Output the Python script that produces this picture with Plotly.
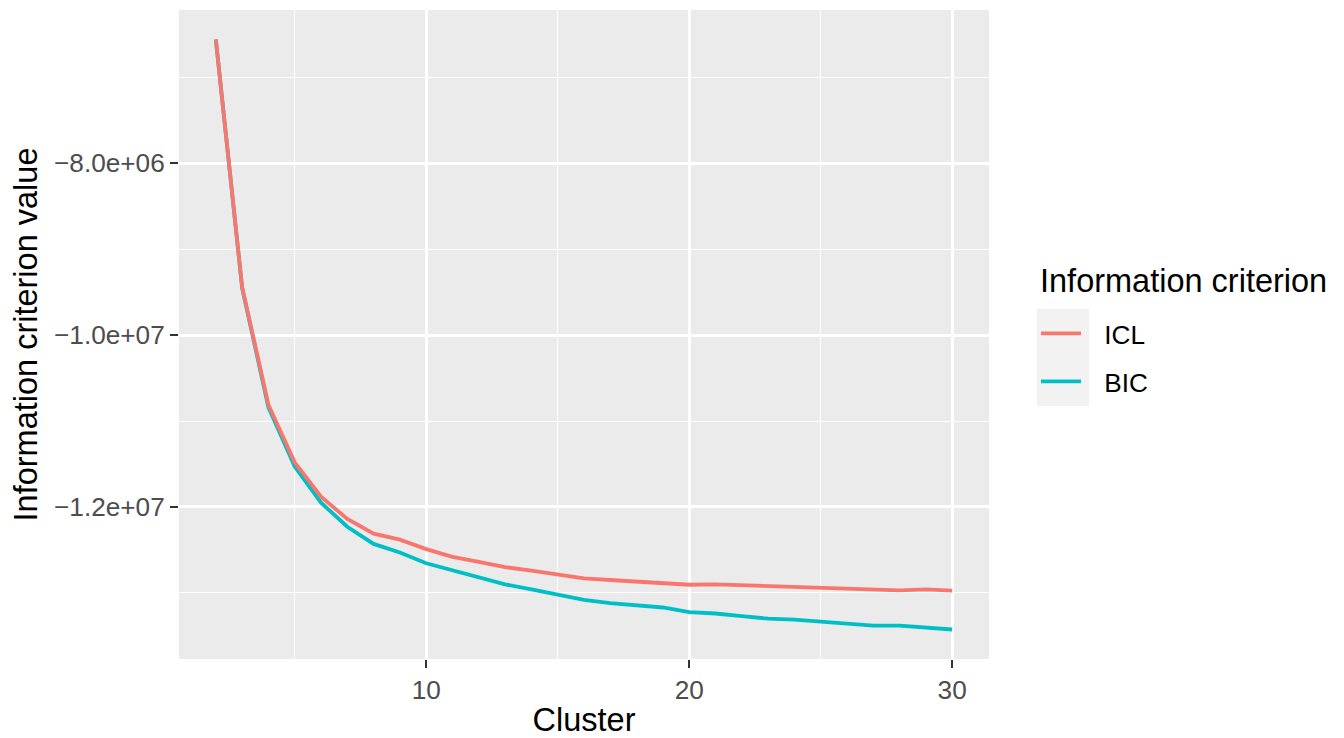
import plotly.graph_objects as go

clusters = list(range(2, 31))
icl = [-6.56e6, -9.44e6, -10.81e6, -11.48e6, -11.88e6, -12.14e6, -12.31e6, -12.38e6,
       -12.49e6, -12.58e6, -12.64e6, -12.70e6, -12.74e6, -12.78e6, -12.83e6, -12.85e6,
       -12.87e6, -12.88e6, -12.905e6, -12.90e6, -12.91e6, -12.93e6, -12.94e6, -12.95e6,
       -12.96e6, -12.97e6, -12.97e6, -12.96e6, -12.973e6]
bic = [-6.56e6, -9.45e6, -10.84e6, -11.53e6, -11.95e6, -12.23e6, -12.43e6, -12.53e6,
       -12.655e6, -12.74e6, -12.82e6, -12.90e6, -12.96e6, -13.02e6, -13.08e6, -13.12e6,
       -13.15e6, -13.17e6, -13.225e6, -13.24e6, -13.27e6, -13.30e6, -13.31e6, -13.33e6,
       -13.36e6, -13.38e6, -13.38e6, -13.40e6, -13.426e6]

x_tickvals = [10, 20, 30]
x_ticktext = ["10", "20", "30"]
y_tickvals = [-8e6, -1.0e7, -1.2e7]
y_ticktext = ["\u22128.0e+06", "\u22121.0e+07", "\u22121.2e+07"]
legend_title = "Information criterion"

FONT = "Liberation Sans, Arial, sans-serif"
TICK_SIZE = 26.2
TITLE_SIZE = 32.5

fig = go.Figure()
fig.add_trace(go.Scatter(x=clusters, y=bic, mode="lines", name="\u2002\u2009BIC",
                         line=dict(color="#00BFC4", width=3.8),
                         legendgroup="BIC", legendrank=2))
fig.add_trace(go.Scatter(x=clusters, y=icl, mode="lines", name="\u2002\u2009ICL",
                         line=dict(color="#F8766D", width=3.8),
                         legendgroup="ICL", legendrank=1))

xmin, xmax = min(clusters), max(clusters)
xpad = (xmax - xmin) * 0.05
ymin, ymax = min(min(icl), min(bic)), max(max(icl), max(bic))
ypad = (ymax - ymin) * 0.05

axis_common = dict(
    showline=False, zeroline=False,
    showgrid=True, gridcolor="#FFFFFF", gridwidth=2.6,
    ticks="outside", ticklen=8, tickwidth=2.4, tickcolor="#333333",
    tickfont=dict(family=FONT, size=TICK_SIZE, color="#4D4D4D"),
)

fig.update_layout(
    width=1336, height=730, autosize=False,
    margin=dict(l=171, r=355, t=2, b=76),
    paper_bgcolor="#FFFFFF", plot_bgcolor="#EBEBEB",
    font=dict(family=FONT, color="#000000"),
    xaxis=dict(
        range=[xmin - xpad, xmax + xpad],
        tickmode="array", tickvals=x_tickvals, ticktext=x_ticktext,
        minor=dict(tickmode="linear", tick0=0, dtick=5, showgrid=True,
                   gridcolor="#FFFFFF", gridwidth=1.3, ticks=""),
        title=dict(text="Cluster", font=dict(family=FONT, size=TITLE_SIZE, color="#000000"),
                   standoff=8),
        **axis_common,
    ),
    yaxis=dict(
        range=[ymin - ypad, ymax + ypad],
        tickmode="array", tickvals=y_tickvals, ticktext=y_ticktext,
        minor=dict(tickmode="linear", tick0=0, dtick=1e6, showgrid=True,
                   gridcolor="#FFFFFF", gridwidth=1.3, ticks=""),
        title=dict(text="Information criterion value",
                   font=dict(family=FONT, size=TITLE_SIZE, color="#000000"), standoff=12),
        **axis_common,
    ),
    showlegend=True,
    legend=dict(
        x=1.058, xanchor="left", y=0.538, yanchor="top",
        bgcolor="rgba(0,0,0,0)",
        font=dict(family=FONT, size=TICK_SIZE, color="#000000"),
        traceorder="grouped", tracegroupgap=11,
        itemwidth=40,
    ),
    annotations=[dict(text=legend_title, xref="paper", yref="paper",
                      x=1.0605, y=0.5831, xanchor="left", yanchor="middle",
                      showarrow=False,
                      font=dict(family=FONT, size=TITLE_SIZE, color="#000000"))],
    shapes=[dict(type="rect", xref="paper", yref="paper",
                 x0=1.0589, x1=1.1235, y0=0.3898, y1=0.5397,
                 fillcolor="#F2F2F2", line=dict(width=0), layer="below")],
)

fig.write_html("out.html")
